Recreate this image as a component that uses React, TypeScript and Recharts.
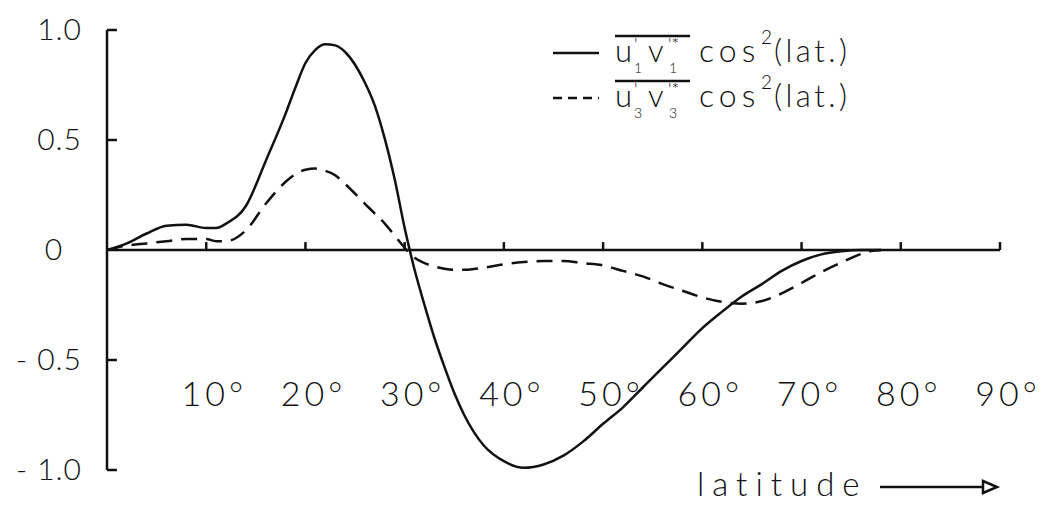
import React from 'react';
import { LineChart, Line, XAxis, YAxis, ReferenceLine } from 'recharts';

// latitude (degrees)
const latitudes = [
  0, 2, 4, 6, 8, 10, 11, 12, 14, 16, 18, 19, 20, 21, 22, 23, 24, 26, 27, 28, 29, 30, 31, 32, 33,
  34, 35, 36, 38, 40, 42, 44, 46, 48, 50, 52, 54, 56, 58, 60, 62, 64, 66, 68, 70, 72, 74, 76, 77,
  78,
];

// u1'v1'* cos^2(lat.)
const series1 = [
  0, 0.03, 0.075, 0.11, 0.115, 0.1, 0.1, 0.12, 0.2, 0.405, 0.62, 0.74, 0.85, 0.91, 0.935, 0.93,
  0.9, 0.76, 0.655, 0.505, 0.32, 0.1, -0.09, -0.25, -0.4, -0.53, -0.65, -0.75, -0.89, -0.96,
  -0.99, -0.975, -0.935, -0.87, -0.79, -0.715, -0.625, -0.535, -0.445, -0.355, -0.28, -0.21,
  -0.155, -0.095, -0.05, -0.02, -0.006, 0, 0, 0,
];

// u3'v3'* cos^2(lat.)
const series3 = [
  0, 0.02, 0.03, 0.04, 0.05, 0.05, 0.04, 0.04, 0.09, 0.21, 0.31, 0.345, 0.365, 0.37, 0.36, 0.34,
  0.3, 0.21, 0.165, 0.12, 0.065, 0.01, -0.035, -0.06, -0.075, -0.085, -0.09, -0.09, -0.08,
  -0.065, -0.055, -0.05, -0.05, -0.06, -0.07, -0.095, -0.12, -0.155, -0.185, -0.215, -0.236,
  -0.244, -0.232, -0.197, -0.15, -0.1, -0.057, -0.018, -0.005, 0,
];

const xTicks = [10, 20, 30, 40, 50, 60, 70, 80, 90];
const yTicks = [-1, -0.5, 0, 0.5, 1];
const yTickLabels: Record<string, string> = {
  '-1': '- 1.0',
  '-0.5': '- 0.5',
  '0': '0',
  '0.5': '0.5',
  '1': '1.0',
};

const data = latitudes.map((lat, i) => ({ lat, u1: series1[i], u3: series3[i] }));

const INK = '#111';
const FONT = "'Lato', 'DejaVu Sans', sans-serif";

function YTick(props: any) {
  const { x, y, payload } = props;
  const label = yTickLabels[String(payload.value)];
  const isZero = payload.value === 0;
  return (
    <text
      x={isZero ? x - 28 : x}
      y={y}
      dy={10}
      textAnchor={isZero ? 'middle' : 'end'}
      fontSize={30}
      fontFamily={FONT}
      fontWeight={300}
      letterSpacing={1}
      fill={INK}
    >
      {label}
    </text>
  );
}

function XTick(props: any) {
  const { x, y, payload } = props;
  return (
    <text
      x={x + 8}
      y={y - 64}
      textAnchor="middle"
      fontSize={34}
      fontFamily={FONT}
      fontWeight={300}
      letterSpacing={4}
      fill={INK}
    >
      {`${payload.value}°`}
    </text>
  );
}

function LegendRow({ y, sub, dashed }: { y: number; sub: string; dashed?: boolean }) {
  const txt = { fontFamily: FONT, fontWeight: 300, fill: INK } as const;
  return (
    <g>
      <line
        x1={553}
        x2={599}
        y1={y - 9}
        y2={y - 9}
        stroke={INK}
        strokeWidth={2.5}
        strokeDasharray={dashed ? '9 6' : undefined}
      />
      <line x1={615} x2={690} y1={y - 26} y2={y - 26} stroke={INK} strokeWidth={2.5} />
      <text x={615} y={y} fontSize={31} {...txt}>u</text>
      <text x={634} y={y - 11} fontSize={18} {...txt}>'</text>
      <text x={634} y={y + 11} fontSize={14} {...txt}>{sub}</text>
      <text x={648} y={y} fontSize={31} {...txt}>v</text>
      <text x={668} y={y - 11} fontSize={18} {...txt}>'*</text>
      <text x={669} y={y + 11} fontSize={14} {...txt}>{sub}</text>
      <text x={699} y={y} fontSize={32} letterSpacing={5} {...txt}>cos</text>
      <text x={761} y={y - 18} fontSize={19} {...txt}>2</text>
      <text x={774} y={y} fontSize={31} letterSpacing={3.5} {...txt}>(lat.)</text>
    </g>
  );
}

export default function App() {
  return (
    <div style={{ position: 'absolute', left: 0, top: 0, width: 1051, height: 509, background: '#fff' }}>
      <LineChart width={1051} height={509} data={data} margin={{ top: 30, right: 51, bottom: 0, left: 0 }}>
        <XAxis
          dataKey="lat"
          type="number"
          domain={[0, 90]}
          ticks={xTicks}
          axisLine={false}
          tickLine={false}
          tickSize={0}
          tickMargin={0}
          height={39}
          tick={<XTick />}
          interval={0}
        />
        <YAxis
          type="number"
          domain={[-1, 1]}
          ticks={yTicks}
          width={107}
          axisLine={{ stroke: INK, strokeWidth: 2.5 }}
          tickLine={false}
          tickSize={0}
          tickMargin={25}
          tick={<YTick />}
          interval={0}
        />
        <ReferenceLine y={0} stroke={INK} strokeWidth={2.5} />
        {xTicks.map((t) => (
          <ReferenceLine
            key={`xt-${t}`}
            segment={[{ x: t, y: 0 }, { x: t, y: 0.036 }]}
            stroke={INK}
            strokeWidth={2.5}
          />
        ))}
        {yTicks
          .filter((v) => v !== 0)
          .map((v) => (
            <ReferenceLine
              key={`yt-${v}`}
              segment={[{ x: 0, y: v }, { x: 1, y: v }]}
              stroke={INK}
              strokeWidth={2.5}
            />
          ))}
        <Line
          type="monotone"
          dataKey="u1"
          stroke={INK}
          strokeWidth={2.5}
          dot={false}
          isAnimationActive={false}
        />
        <Line
          type="monotone"
          dataKey="u3"
          stroke={INK}
          strokeWidth={2.5}
          strokeDasharray="16 9"
          dot={false}
          isAnimationActive={false}
        />
      </LineChart>
      <svg width={1051} height={509} style={{ position: 'absolute', left: 0, top: 0, pointerEvents: 'none' }}>
        <LegendRow y={62} sub="1" />
        <LegendRow y={107} sub="3" dashed />
        <text x={697} y={496} fontSize={33} fontFamily={FONT} fontWeight={300} fill={INK} letterSpacing={8}>
          latitude
        </text>
        <line x1={880} x2={983} y1={487} y2={487} stroke={INK} strokeWidth={2.5} />
        <path d="M983,481 L997,487 L983,493 Z" fill="#fff" stroke={INK} strokeWidth={2.5} />
      </svg>
    </div>
  );
}
